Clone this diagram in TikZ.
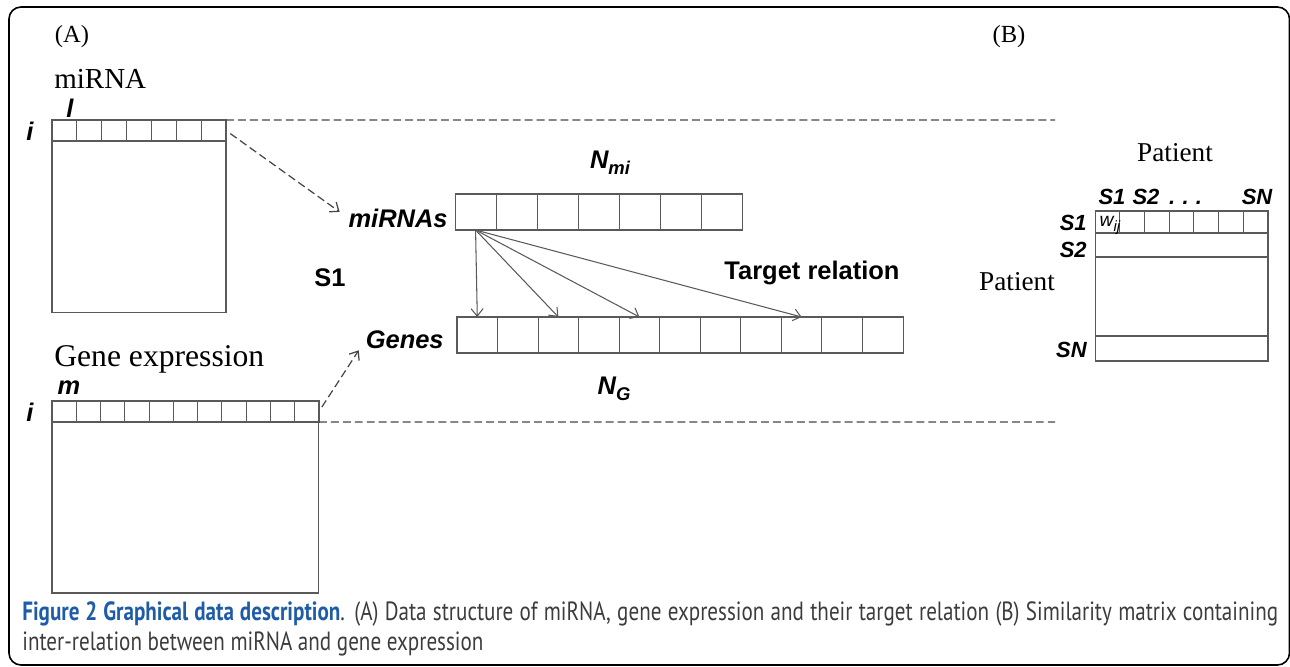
\documentclass[tikz,border=0pt]{standalone}
\usepackage{fontspec}
\setmainfont{Liberation Serif}
\setsansfont{Liberation Sans}
\newfontfamily\capfont[FakeStretch=0.8]{PT Sans}
\usetikzlibrary{arrows.meta,positioning,calc}
\definecolor{linegray}{RGB}{90,90,90}
\definecolor{dashgray}{RGB}{70,70,70}
\definecolor{capblue}{RGB}{31,92,168}
\definecolor{captext}{RGB}{60,60,60}

\begin{document}
\begin{tikzpicture}[
  x=0.02cm, y=-0.02cm,
  cell/.style={draw=linegray, line width=0.6pt, inner sep=0pt, outer sep=0pt},
  ttl/.style={inner sep=0pt, font=\fontsize{14}{16}\selectfont},
  serif/.style={inner sep=0pt, font=\fontsize{15.5}{18}\selectfont},
  lab/.style={inner sep=0pt, font=\sffamily\bfseries\itshape\fontsize{14.5}{16}\selectfont},
  smlab/.style={inner sep=0pt, font=\sffamily\bfseries\itshape\fontsize{12.5}{14}\selectfont},
  bold/.style={inner sep=0pt, font=\sffamily\bfseries\fontsize{14.5}{16}\selectfont},
  arr/.style={draw=linegray, line width=0.6pt, -{Straight Barb[length=1.5mm, width=2.4mm]}},
  dasharr/.style={draw=dashgray, line width=0.7pt, dash pattern=on 4.5pt off 2.3pt, -{Straight Barb[length=1.5mm, width=2.4mm]}},
  dashline/.style={draw=dashgray, line width=0.7pt, dash pattern=on 4.5pt off 2.3pt}
]
\useasboundingbox (0,0) rectangle (1290,666);

% outer frame
\draw[line width=0.9pt, rounded corners=0.24cm] (9,7) rectangle (1289.5,665);

% (A) miRNA matrix
\node[ttl] (A) at (72,37) {(A)};
\node[serif, font=\fontsize{16.5}{18}\selectfont, anchor=west] (mirna) at (54,79) {miRNA};
\foreach \k in {1,...,7}
  \node[cell, minimum width=0.497cm, minimum height=0.42cm] (mr\k) at ({52+24.86*(\k-0.5)},130.5) {};
\node[cell, anchor=north west, minimum width=3.48cm, minimum height=3.44cm] (mbody) at (mr1.south west) {};
\node[lab] (ml) at (70,108) {l};
\node[lab] (mi) at (30,131) {i};

% gene expression matrix
\node[serif, font=\fontsize{18}{20}\selectfont, anchor=west] (gexp) at (54,359) {Gene expression};
\foreach \k in {1,...,11}
  \node[cell, minimum width=0.4855cm, minimum height=0.42cm] (gr\k) at ({52+24.27*(\k-0.5)},411.5) {};
\node[cell, anchor=north west, minimum width=5.34cm, minimum height=3.42cm] (gbody) at (gr1.south west) {};
\node[lab] (gm) at (69,388) {m};
\node[lab] (gi) at (30,412) {i};

% miRNAs and genes vectors
\foreach \k in {1,...,7}
  \node[cell, minimum width=0.822cm, minimum height=0.72cm] (mi\k) at ({455+41.14*(\k-0.5)},212) {};
\foreach \k in {1,...,11}
  \node[cell, minimum width=0.811cm, minimum height=0.72cm] (g\k) at ({457+40.55*(\k-0.5)},335) {};
\node[lab, anchor=east] (mirnas) at (448,218) {miRNAs};
\node[lab, anchor=east] (genes) at (444,340) {Genes};
\node[lab] (nmi) at (610,163) {N\raisebox{-0.45ex}{\fontsize{10.5}{12}\selectfont mi}};
\node[lab] (ng) at (614,389) {N\raisebox{-0.45ex}{\fontsize{10.5}{12}\selectfont G}};
\node[bold] (s1) at (330,278) {S1};
\node[bold] (target) at (812,273) {Target relation};

\draw[arr] (mi1.south) -- (g1.north);
\draw[arr] (mi1.south) -- (g3.north);
\draw[arr] (mi1.south) -- (g5.north);
\draw[arr] (mi1.south) -- (g9.north);

% dashed guides
\coordinate (topend) at (1055,120);
\coordinate (botend) at (1055,422);
\draw[dashline] (mr7.north east) -- (topend);
\draw[dashline] (gr11.south east) -- (botend);
\draw[dasharr, shorten <=3pt, shorten >=6pt] (mr7.east) -- (mirnas.west);
\draw[dasharr, shorten <=3pt, shorten >=7pt] (gr11.east) -- (genes.west);

% (B) similarity matrix
\node[ttl] (B) at (1009,37) {(B)};
\node[serif] (ptop) at (1175,153) {Patient};
\node[serif] (pleft) at (1017,282) {Patient};
\foreach \k in {1,...,7}
  \node[cell, minimum width=0.494cm, minimum height=0.44cm] (b\k) at ({1095+24.71*(\k-0.5)},222) {};
\node[cell, anchor=north west, minimum width=3.46cm, minimum height=0.48cm] (brow2) at (b1.south west) {};
\node[cell, anchor=north west, minimum width=3.46cm, minimum height=1.58cm] (bmid) at (brow2.south west) {};
\node[cell, anchor=north west, minimum width=3.46cm, minimum height=0.5cm] (brown) at (bmid.south west) {};
\node[inner sep=0pt, font=\sffamily\itshape\fontsize{11}{12}\selectfont] (wij) at (1110,225) {w\raisebox{-0.5ex}{\fontsize{8.5}{9}\selectfont ij}};
\node[smlab] (cs1) at (1112,197) {S1};
\node[smlab] (cs2) at (1146,197) {S2};
\node[smlab, anchor=base west, xshift=0.18cm] (cdots) at (cs2.base east) {.\,\,.\,\,.};
\node[smlab] (csn) at (1257,197) {SN};
\node[smlab, anchor=east] (rs1) at (1087,223) {S1};
\node[smlab, anchor=east] (rs2) at (1087,250) {S2};
\node[smlab, anchor=east] (rsn) at (1087,350) {SN};

% caption
\node[anchor=north west, inner sep=0pt, text width=25.12cm, align=justify,
  font=\capfont\fontsize{15}{17}\selectfont, text=captext] (cap) at (22,601)
  {\textcolor{capblue}{\bfseries Figure 2 Graphical data description}. (A) Data structure of miRNA, gene expression and their target relation (B) Similarity matrix containing\linebreak inter-relation between miRNA and gene expression};

\end{tikzpicture}
\end{document}
